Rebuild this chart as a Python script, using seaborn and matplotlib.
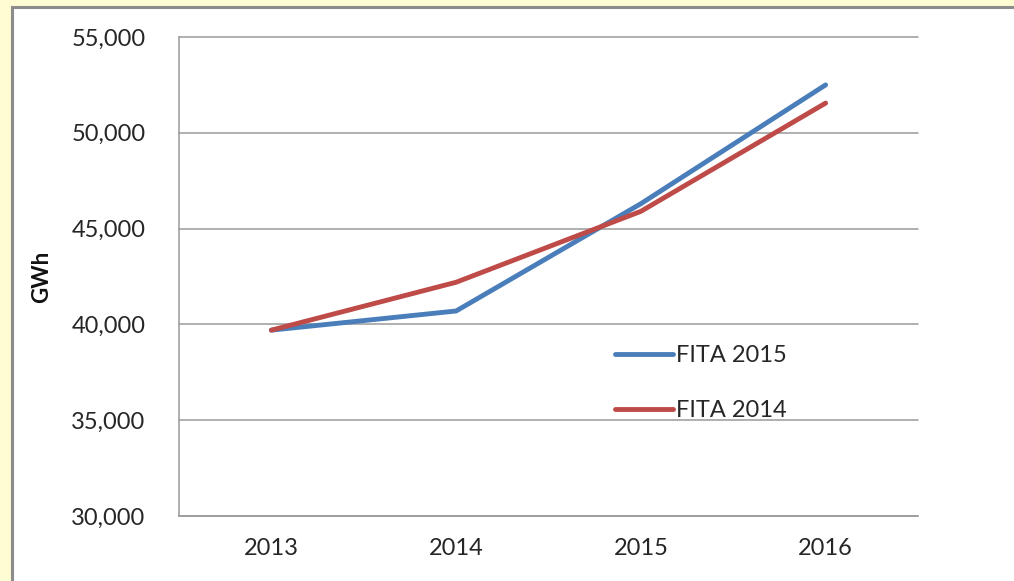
import matplotlib
matplotlib.use("Agg")
import matplotlib.pyplot as plt
from matplotlib.patches import Rectangle
import seaborn as sns
import pandas as pd

years = ["2013", "2014", "2015", "2016"]
fita_2015 = [39700, 40700, 46300, 52500]
fita_2014 = [39700, 42200, 45900, 51550]
series_names = ["FITA 2015", "FITA 2014"]
y_ticks = [30000, 35000, 40000, 45000, 50000, 55000]

df = pd.DataFrame({
    "Year": years * 2,
    "GWh": fita_2015 + fita_2014,
    "Series": [series_names[0]] * len(years) + [series_names[1]] * len(years),
})

sns.set_style("white")
plt.rcParams["font.family"] = ["Lato", "DejaVu Sans"]

fig = plt.figure(figsize=(10.14, 5.81), dpi=100)
fig.patch.set_facecolor("#FFFBD2")
fig.patches.append(Rectangle((11.5 / 1014, -0.05), 1.1, 1 - 6.5 / 581 + 0.05,
                             transform=fig.transFigure, facecolor="white",
                             edgecolor="#8C8C8C", linewidth=2.2, zorder=-5))

ax = fig.add_axes([179 / 1014, 1 - 516 / 581, 739 / 1014, 479 / 581])
ax.set_zorder(2)
ax.set_facecolor("white")

palette = {"FITA 2015": "#4A7EBB", "FITA 2014": "#BE4B48"}
sns.lineplot(data=df, x="Year", y="GWh", hue="Series", hue_order=series_names,
             palette=palette, linewidth=3.5, ax=ax, sort=False)

ax.set_xlim(-0.5, 3.5)
ax.set_ylim(30000, 55000)
ax.set_yticks(y_ticks)
ax.set_yticklabels([f"{v:,}" for v in y_ticks])
ax.grid(axis="y", color="#9A9A9A", linewidth=1.1)
ax.grid(axis="x", visible=False)
for s in ["top", "right"]:
    ax.spines[s].set_visible(False)
for s in ["left", "bottom"]:
    ax.spines[s].set_color("#9A9A9A")
    ax.spines[s].set_linewidth(1.1)
for line in ax.get_ygridlines():
    line.set_clip_on(False)

ax.tick_params(axis="y", length=0, pad=24, labelsize=17, labelcolor="#262626")
ax.tick_params(axis="x", length=0, pad=16, labelsize=17, labelcolor="#262626")
ax.set_xlabel("")
ax.set_ylabel("GWh", fontsize=16, fontweight="bold", color="#111111")
ax.yaxis.set_label_coords(-0.172, 0.5)

leg = ax.legend(loc="upper left", bbox_to_anchor=(615 / 1014, 1 - 345 / 581),
                bbox_transform=fig.transFigure, frameon=False, fontsize=17,
                handlelength=2.45, handletextpad=0.12, labelspacing=1.45,
                borderpad=0, borderaxespad=0, title=None)
for t in leg.get_texts():
    t.set_color("#262626")
for h in leg.get_lines():
    h.set_linewidth(3.5)

fig.savefig("out.png", dpi=100, facecolor=fig.get_facecolor())
